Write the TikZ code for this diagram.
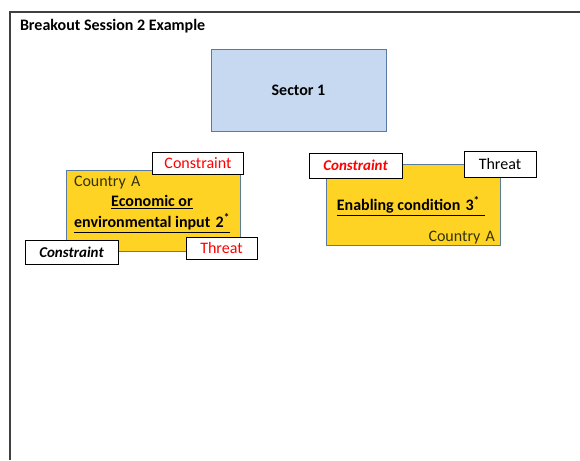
\documentclass[tikz,border=0pt]{standalone}
\usepackage{fontspec}
\setmainfont{Carlito}
\begin{document}
\begin{tikzpicture}[x=1pt,y=-1pt,
  every node/.style={inner sep=0pt, outer sep=0pt, font=\fontsize{16}{20}\selectfont},
  sectorbox/.style={draw=blueedge, fill=sectorfill, line width=1pt, minimum width=175pt, minimum height=81pt},
  drivebox/.style={draw=blueedge, fill=drivefill, line width=1pt, minimum width=174pt, minimum height=81pt},
  tagbox/.style={draw=black, fill=white, line width=1pt, minimum height=23pt},
  tagred/.style={tagbox, text=tagredcol},
  countrytxt/.style={text=countrycol},
  scrawl/.style={font=\fontsize{15}{18}\selectfont\bfseries\itshape}
]
\definecolor{blueedge}{HTML}{5A7AA6}
\definecolor{sectorfill}{HTML}{C6D9F1}
\definecolor{drivefill}{HTML}{FFD324}
\definecolor{tagredcol}{HTML}{FF0000}
\definecolor{countrycol}{HTML}{333305}
\definecolor{framecol}{HTML}{404040}

\useasboundingbox (0,0) rectangle (580,460);
\fill[white] (0,0) rectangle (580,460);

% outer frame (left and top edges)
\coordinate (fbl) at (10,460);
\coordinate (ftl) at (10,12);
\coordinate (ftr) at (580,12);
\draw[framecol, line width=2pt] (fbl) -- (ftl) -- (ftr);

\node[anchor=west, font=\fontsize{16}{20}\selectfont\bfseries] (title) at (20,26) {Breakout Session 2 Example};

% sector
\node[sectorbox, font=\fontsize{16}{20}\selectfont\bfseries] (sector) at (298.5,90.5) {Sector 1};

% left driver box
\node[drivebox] (drvA) at (153,210.5) {};
\node[countrytxt, anchor=base west] (ctyA) at (74,186) {Country\,\,A};
\node[font=\fontsize{16}{21}\selectfont\bfseries, align=center] (txtA) at (152,214)
  {\underline{Economic or}\\\underline{environmental input\,\,2\textsuperscript{*}}};
\node[tagred, minimum width=91pt, minimum height=22pt] (conA) at (198,163) {Constraint};
\node[tagbox, minimum width=93pt, minimum height=24pt, scrawl] (conA2) at (71.5,252) {Constraint};
\node[tagred, minimum width=71pt, minimum height=22pt] (thrA) at (221.5,248) {Threat};

% right driver box
\node[drivebox] (drvB) at (413,205) {};
\node[font=\fontsize{16}{20}\selectfont\bfseries] (txtB) at (411,206)
  {\underline{Enabling condition\,\,3\textsuperscript{*}\,\,}};
\node[countrytxt, anchor=base east] (ctyB) at (495,241) {Country\,\,A};
\node[tagbox, minimum width=93pt, minimum height=25pt, scrawl, text=tagredcol] (conB) at (355.5,165.5) {Constraint};
\node[tagbox, minimum width=72pt, minimum height=26pt] (thrB) at (500,164) {Threat};
\end{tikzpicture}
\end{document}
